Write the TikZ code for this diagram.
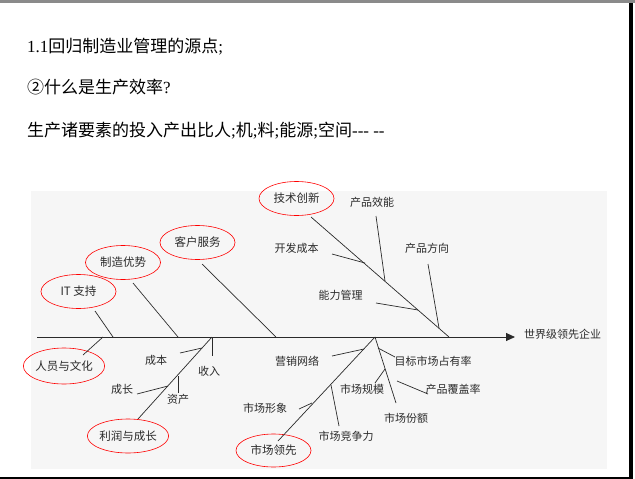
\documentclass[tikz,border=0pt]{standalone}
\usepackage{fontspec}
\setmainfont{Liberation Serif}
\newfontfamily\cjk{Noto Sans CJK SC}
\usetikzlibrary{shapes.geometric,arrows.meta}
\definecolor{panel}{HTML}{F6F6F6}
\definecolor{topband}{HTML}{8A8A8A}
\definecolor{ink}{HTML}{2A2A2A}
\begin{document}
\begin{tikzpicture}[x=1pt,y=-1pt,
  lbl/.style={font=\cjk\fontsize{11}{12}\selectfont, inner sep=0pt, text=ink},
  oval/.style={ellipse, draw=red, line width=0.6pt, minimum width=75pt, minimum height=34pt, inner sep=0pt, font=\cjk\fontsize{11.5}{12}\selectfont, text=ink},
  bone/.style={draw=ink, line width=0.7pt},
  title/.style={anchor=west, inner sep=0pt, font=\fontsize{17}{20}\selectfont}]
\useasboundingbox (0,0) rectangle (635,479);
\fill[white] (0,0) rectangle (635,479);
\fill[topband] (0,0) rectangle (635,3);
\fill[black] (629,3) rectangle (633,479);
\fill[black] (0,477) rectangle (633,479);
\fill[panel] (31,191) rectangle (607,469);

% titles
\node[title] (t1) at (27,47) {1.1{\cjk 回归制造业管理的源点};};
\node[title] (t2) at (27,87) {{\cjk ②什么是生产效率}?};
\node[title] (t3) at (27,131) {{\cjk 生产诸要素的投入产出比人};{\cjk 机};{\cjk 料};{\cjk 能源};{\cjk 空间}-{}-{}- -{}-};

% spine
\coordinate (s0) at (37,337);
\coordinate (tip) at (515,337);
\draw[bone, line width=0.9pt, -{Triangle[length=9pt,width=8pt]}] (s0) -- (tip);
\node[lbl, anchor=west] (goal) at (524,334) {世界级领先企业};

% ovals
\node[oval] (jscx) at (296.5,198.5) {技术创新};
\node[oval] (khfw) at (197.5,242.5) {客户服务};
\node[oval] (zzys) at (123,262.5) {制造优势};
\node[oval] (itzc) at (78.5,291.5) {IT 支持};
\node[oval, minimum width=76pt, minimum height=36pt] (ryyw) at (64,366) {人员与文化};
\node[oval, minimum width=76pt] (lryc) at (128,436) {利润与成长};
\node[oval, minimum height=33pt] (sclx) at (273.5,450.5) {市场领先};

% upper bones
\coordinate (j1) at (113,337); \coordinate (e1) at (95,311);
\coordinate (j2) at (178,337); \coordinate (e2) at (133,283);
\coordinate (j3) at (276,337); \coordinate (e3) at (202,264);
\coordinate (j4) at (449,337); \coordinate (e4) at (311,217);
\draw[bone] (e1) -- (j1);
\draw[bone] (e2) -- (j2);
\draw[bone] (e3) -- (j3);
\draw[bone] (e4) -- (j4);

\coordinate (k1) at (365,263); \coordinate (k1e) at (332,254);
\coordinate (k2) at (385,281); \coordinate (k2e) at (376,216);
\coordinate (k3) at (418,310); \coordinate (k3e) at (376,303);
\coordinate (k4) at (439,328); \coordinate (k4e) at (428,264);
\draw[bone] (k1e) -- (k1);
\draw[bone] (k2e) -- (k2);
\draw[bone] (k3e) -- (k3);
\draw[bone] (k4e) -- (k4);
\node[lbl] (kfcb) at (296.5,248) {开发成本};
\node[lbl] (cpxn) at (372,202) {产品效能};
\node[lbl] (nlgl) at (340.5,295) {能力管理};
\node[lbl] (cpfx) at (427,248) {产品方向};

% lower bones
\coordinate (j5) at (103,337); \coordinate (e5) at (83,355);
\draw[bone] (j5) -- (e5);
\coordinate (j6) at (212,337); \coordinate (e6) at (138,419);
\draw[bone] (j6) -- (e6);
\coordinate (m1e) at (212,356);
\coordinate (m2) at (202,348); \coordinate (m2e) at (180,353);
\coordinate (m3) at (168,386); \coordinate (m3e) at (137,394);
\coordinate (m4) at (178,376); \coordinate (m4e) at (178,393);
\draw[bone] (j6) -- (m1e);
\draw[bone] (m2) -- (m2e);
\draw[bone] (m3) -- (m3e);
\draw[bone] (m4) -- (m4e);
\node[lbl] (sr) at (209,371) {收入};
\node[lbl] (cb) at (156,360) {成本};
\node[lbl] (cz) at (122,389) {成长};
\node[lbl] (zc) at (178,399) {资产};

\coordinate (j7) at (375,337); \coordinate (e7) at (278,441);
\coordinate (e8) at (396,403);
\draw[bone] (j7) -- (e7);
\draw[bone] (j7) -- (e8);
\coordinate (n1) at (364,349); \coordinate (n1e) at (332,356);
\coordinate (n2) at (312,403); \coordinate (n2e) at (299,409);
\coordinate (n3) at (331,385); \coordinate (n3e) at (339,426);
\draw[bone] (n1) -- (n1e);
\draw[bone] (n2) -- (n2e);
\draw[bone] (n3) -- (n3e);
\node[lbl] (yxwl) at (297,361) {营销网络};
\node[lbl] (scxx) at (265,408) {市场形象};
\node[lbl] (scjz) at (346,436) {市场竞争力};

\coordinate (p1) at (378,348); \coordinate (p1e) at (395,357);
\coordinate (p2) at (385,369); \coordinate (p2e) at (375,383);
\coordinate (p3) at (397,381); \coordinate (p3e) at (428,394);
\draw[bone] (p1) -- (p1e);
\draw[bone] (p2) -- (p2e);
\draw[bone] (p3) -- (p3e);
\node[lbl] (mbsc) at (433,361) {目标市场占有率};
\node[lbl] (scgm) at (362,389) {市场规模};
\node[lbl] (cpfg) at (453,389) {产品覆盖率};
\node[lbl] (scfe) at (406,418) {市场份额};
\end{tikzpicture}
\end{document}
